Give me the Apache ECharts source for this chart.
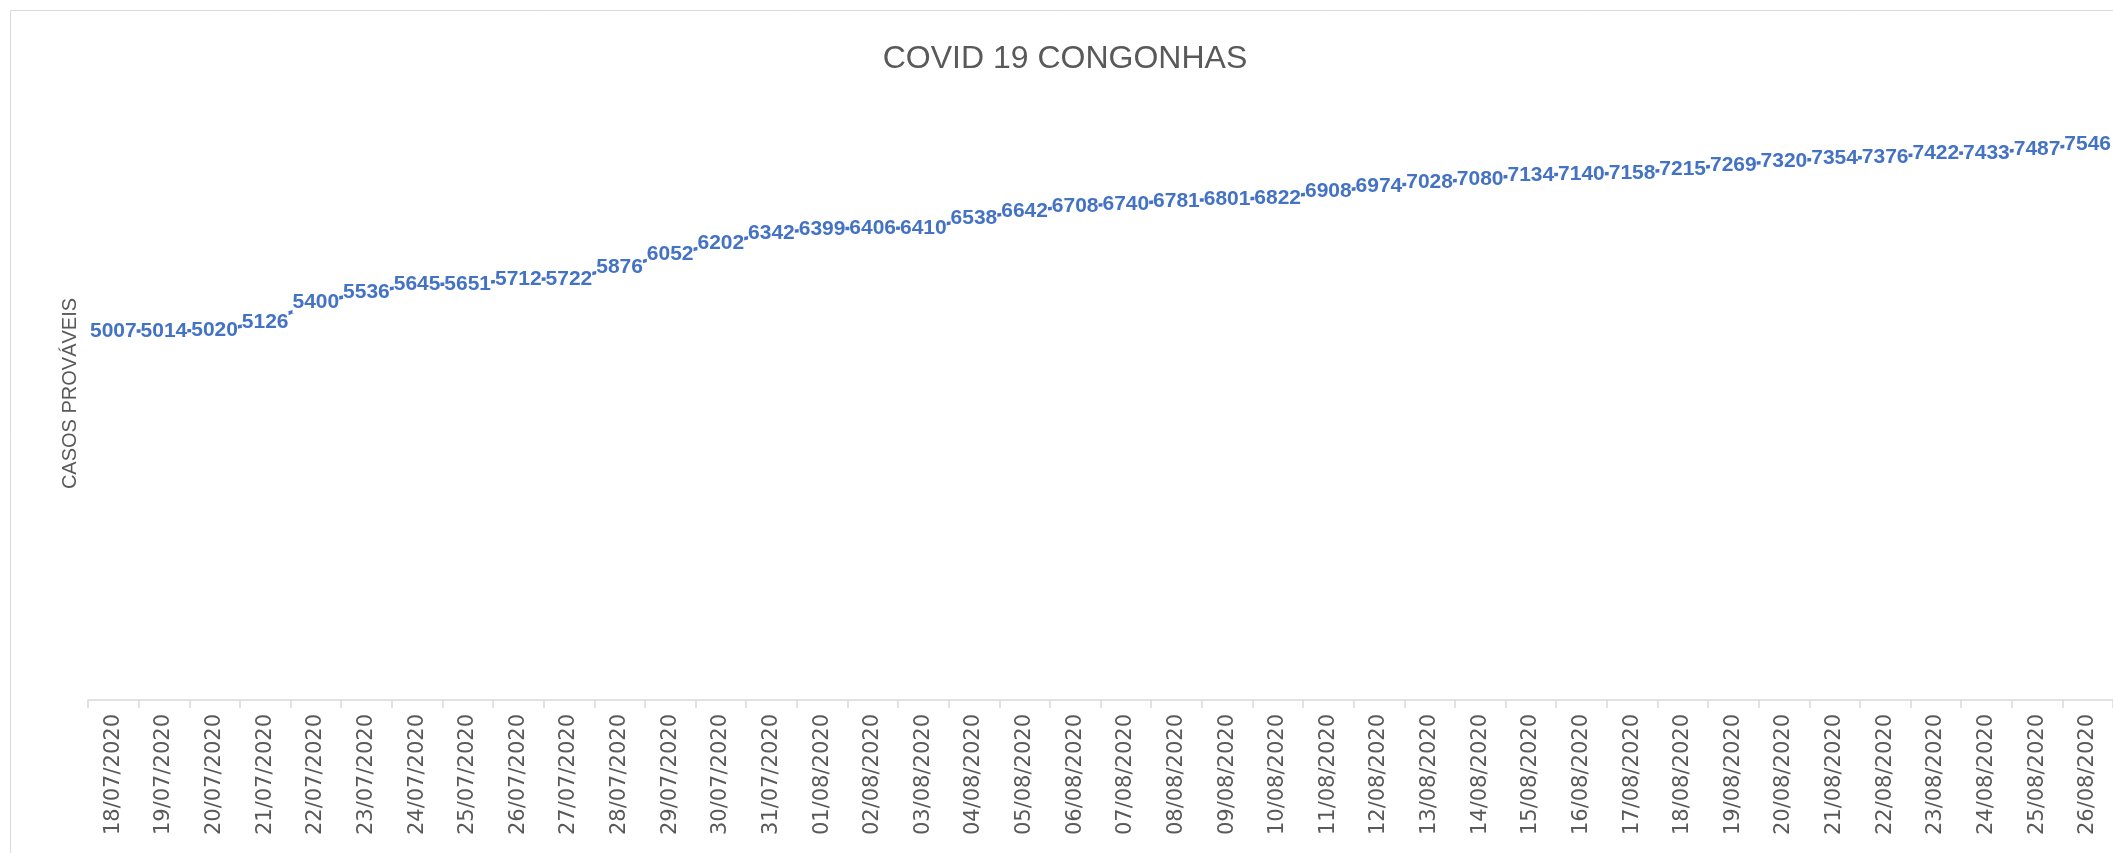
<!DOCTYPE html>
<html>
<head>
<meta charset="utf-8">
<title>COVID 19 CONGONHAS</title>
<script src="https://cdn.jsdelivr.net/npm/echarts@6/dist/echarts.min.js"></script>
<style>
	html, body { margin: 0; padding: 0; background: #fff; }
	#chart { width: 2113px; height: 853px; }
</style>
</head>
<body>
<div id="chart"></div>
<script>
	// 日期
	var days = [
		"18/07/2020", "19/07/2020", "20/07/2020", "21/07/2020", "22/07/2020",
		"23/07/2020", "24/07/2020", "25/07/2020", "26/07/2020", "27/07/2020",
		"28/07/2020", "29/07/2020", "30/07/2020", "31/07/2020", "01/08/2020",
		"02/08/2020", "03/08/2020", "04/08/2020", "05/08/2020", "06/08/2020",
		"07/08/2020", "08/08/2020", "09/08/2020", "10/08/2020", "11/08/2020",
		"12/08/2020", "13/08/2020", "14/08/2020", "15/08/2020", "16/08/2020",
		"17/08/2020", "18/08/2020", "19/08/2020", "20/08/2020", "21/08/2020",
		"22/08/2020", "23/08/2020", "24/08/2020", "25/08/2020", "26/08/2020"
	];

	// 可能病例
	var casosProvaveis = [
		5007, 5014, 5020, 5126, 5400, 5536, 5645, 5651, 5712, 5722,
		5876, 6052, 6202, 6342, 6399, 6406, 6410, 6538, 6642, 6708,
		6740, 6781, 6801, 6822, 6908, 6974, 7028, 7080, 7134, 7140,
		7158, 7215, 7269, 7320, 7354, 7376, 7422, 7433, 7487, 7546
	];

	var yMin = 0;
	var yMax = 8000;

	var chart = echarts.init(document.getElementById("chart"));

	var option = {
		animation: false,
		backgroundColor: "#fff",
		graphic: [
			{
				type: "rect",
				shape: { x: 10.5, y: 10.5, width: 2300, height: 1000 },
				style: { fill: "none", stroke: "#d9d9d9", lineWidth: 1 },
				silent: true
			}
		],
		title: {
			text: "COVID 19 CONGONHAS",
			left: 1060,
			textAlign: "center",
			top: 38,
			textStyle: {
				fontFamily: "Liberation Sans",
				fontSize: 32,
				fontWeight: "normal",
				color: "#595959"
			}
		},
		grid: {
			left: 88,
			right: -8,
			top: 111,
			bottom: 153,
			containLabel: false
		},
		xAxis: {
			type: "category",
			data: days,
			boundaryGap: true,
			axisLine: {
				lineStyle: { color: "#d9d9d9", width: 1.5 }
			},
			axisTick: {
				show: true,
				length: 8,
				lineStyle: { color: "#d9d9d9", width: 1.5 }
			},
			axisLabel: {
				interval: 0,
				rotate: 90,
				margin: 14,
				fontFamily: "DejaVu Sans",
				fontSize: 21,
				color: "#595959"
			},
			splitLine: { show: false }
		},
		yAxis: {
			type: "value",
			min: yMin,
			max: yMax,
			name: "CASOS PROVÁVEIS",
			nameLocation: "middle",
			nameRotate: 90,
			nameGap: 8,
			nameTextStyle: {
				fontFamily: "Liberation Sans",
				fontSize: 20,
				color: "#595959",
				padding: [0, 0, 0, 24]
			},
			axisLine: { show: false },
			axisTick: { show: false },
			axisLabel: { show: false },
			splitLine: { show: false }
		},
		series: [
			{
				name: "CASOS PROVÁVEIS",
				type: "line",
				data: casosProvaveis,
				symbol: "rect",
				symbolSize: 3,
				lineStyle: { color: "#4472c4", width: 3.5 },
				itemStyle: { color: "#4472c4" },
				label: {
					show: true,
					position: "inside",
					offset: [0, -7],
					fontFamily: "Liberation Sans",
					fontSize: 21,
					fontWeight: "bold",
					color: "#4472c4",
					backgroundColor: "#fff",
					padding: [0, 0]
				},
				labelLayout: { hideOverlap: false }
			}
		]
	};

	chart.setOption(option);
</script>
</body>
</html>
